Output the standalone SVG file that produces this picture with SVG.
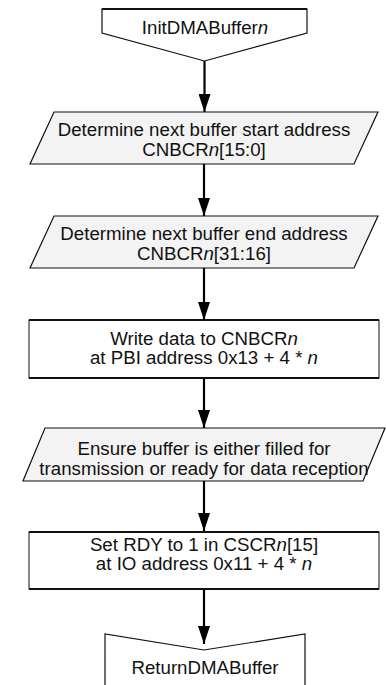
<svg xmlns="http://www.w3.org/2000/svg" width="386" height="685" viewBox="0 0 386 685">
<style>
text{font-family:"Liberation Sans",Arial,Helvetica,sans-serif;font-size:18.7px;fill:#111;text-anchor:middle}
.i{font-style:italic}
.term{fill:#fff;stroke:#111;stroke-width:1.2}
.termtop{stroke:#111;stroke-width:2.2;fill:none}
.io{fill:#f3f3f3;stroke:#111;stroke-width:1.2}
.proc{fill:#fff;stroke:#111;stroke-width:1}
.edge{stroke:#111;stroke-width:2.2;fill:none}
.conn line{stroke:#000;stroke-width:2.2}
</style>
<defs>
<marker id="ah" viewBox="0 0 18 12" refX="18" refY="6" markerWidth="18" markerHeight="12" markerUnits="userSpaceOnUse" orient="auto">
<path d="M0,0 L18,6 L0,12 Z" fill="#000"/>
</marker>
</defs>
<g class="conn">
<line x1="204.5" y1="61" x2="204.5" y2="112" marker-end="url(#ah)"/>
<line x1="204" y1="164" x2="204" y2="216" marker-end="url(#ah)"/>
<line x1="204" y1="268" x2="204" y2="320" marker-end="url(#ah)"/>
<line x1="204" y1="378" x2="204" y2="428" marker-end="url(#ah)"/>
<line x1="204" y1="481" x2="204" y2="531" marker-end="url(#ah)"/>
<line x1="204" y1="589" x2="204" y2="644" marker-end="url(#ah)"/>
</g>
<g id="start">
<path class="term" d="M102,9 L307,9 L307,33 L204.5,61 L102,33 Z"/>
<line class="termtop" x1="102" y1="9" x2="307" y2="9"/>
<text x="205" y="34">InitDMABuffer<tspan class="i">n</tspan></text>
</g>
<g id="startaddr">
<path class="io" d="M54,112 L378,112 L354,164 L30,164 Z"/>
<text x="204" y="136">Determine next buffer start address</text>
<text x="204" y="156">CNBCR<tspan class="i">n</tspan>[15:0]</text>
</g>
<g id="endaddr">
<path class="io" d="M54,216 L378,216 L354,268 L30,268 Z"/>
<text x="204" y="240">Determine next buffer end address</text>
<text x="204" y="260">CNBCR<tspan class="i">n</tspan>[31:16]</text>
</g>
<g id="write">
<rect class="proc" x="29" y="320" width="350" height="58"/>
<line class="edge" x1="29" y1="320" x2="379" y2="320"/>
<line class="edge" x1="29" y1="378" x2="379" y2="378"/>
<text x="204" y="344.5">Write data to CNBCR<tspan class="i">n</tspan></text>
<text x="204" y="363.5">at PBI address 0x13 + 4 * <tspan class="i">n</tspan></text>
</g>
<g id="ensure">
<path class="io" d="M45,428 L385,428 L363,481 L23,481 Z"/>
<text x="204" y="455">Ensure buffer is either filled for</text>
<text x="204" y="474.5">transmission or ready for data reception</text>
</g>
<g id="setrdy">
<rect class="proc" x="29" y="532" width="350" height="57"/>
<line class="edge" x1="29" y1="532" x2="379" y2="532"/>
<line class="edge" x1="29" y1="589" x2="379" y2="589"/>
<text x="204" y="550.5">Set RDY to 1 in CSCR<tspan class="i">n</tspan>[15]</text>
<text x="204" y="570">at IO address 0x11 + 4 * <tspan class="i">n</tspan></text>
</g>
<g id="end">
<path class="term" d="M105,690 L105,634 L204,650 L305,634 L305,690"/>
<text x="205" y="674">ReturnDMABuffer</text>
</g>
</svg>
